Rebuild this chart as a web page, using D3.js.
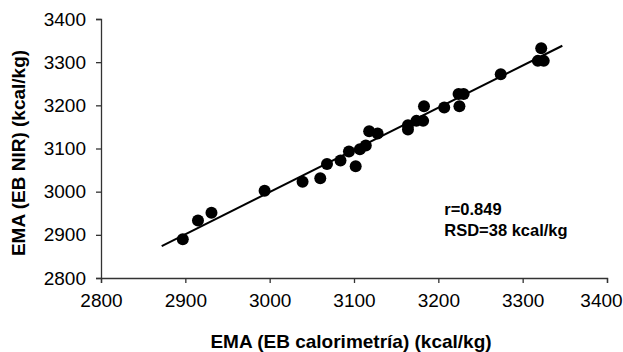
<!DOCTYPE html>
<html lang="es">
<head>
    <meta charset="UTF-8">
    <title>EMA NIR vs calorimetría</title>
    <script src="https://d3js.org/d3.v7.min.js"></script>
    <style>
        body { margin: 0; background: #fff; }
        svg { font-family: "Liberation Sans", Arial, sans-serif; }
        .axis path, .axis line { stroke: #333; stroke-width: 1.3px; }
        .axis text { fill: #000; font-size: 19px; }
        .title { font-weight: bold; font-size: 19px; fill: #000; }
        .note { font-weight: bold; font-size: 16.5px; fill: #000; }
    </style>
</head>
<body>
    <svg id="chart" width="623" height="352"></svg>

    <script>
        // EMA (EB calorimetría) vs EMA (EB NIR), kcal/kg
        const calorimetria = [2897, 2915, 2931, 2994, 3039, 3060, 3068, 3084, 3094, 3102,
                              3107, 3114, 3118, 3128, 3164, 3164, 3174, 3182, 3183, 3207,
                              3225, 3224, 3230, 3274, 3318, 3325, 3322];
        const nir          = [2890, 2933, 2951, 3002, 3023, 3031, 3064, 3072, 3093, 3059,
                              3098, 3107, 3140, 3135, 3154, 3144, 3164, 3164, 3198, 3195,
                              3198, 3226, 3226, 3272, 3303, 3303, 3332];

        // regression line end points
        const lineX = [2872, 3347];
        const lineY = [2874, 3338];

        const xTicks = [2800, 2900, 3000, 3100, 3200, 3300, 3400];
        const yTicks = [2800, 2900, 3000, 3100, 3200, 3300, 3400];

        const notes = ["r=0.849", "RSD=38 kcal/kg"];

        const margin = { top: 19, right: 16, bottom: 74, left: 101 };
        const width = 623 - margin.left - margin.right;
        const height = 352 - margin.top - margin.bottom;

        const svg = d3.select("#chart");
        const g = svg.append("g")
            .attr("transform", `translate(${margin.left},${margin.top})`);

        const x = d3.scaleLinear().domain([2800, 3400]).range([0, width]);
        const y = d3.scaleLinear().domain([2800, 3400]).range([height, 0]);

        const xAxis = g.append("g")
            .attr("class", "axis")
            .attr("transform", `translate(0,${height})`)
            .call(d3.axisBottom(x).tickValues(xTicks).tickFormat(d3.format("d"))
                .tickSizeInner(5).tickSizeOuter(5).tickPadding(11));

        // keep the last label inside the window
        xAxis.selectAll(".tick text")
            .filter(d => d === 3400)
            .attr("dx", -6);

        g.append("g")
            .attr("class", "axis")
            .call(d3.axisLeft(y).tickValues(yTicks).tickFormat(d3.format("d"))
                .tickSizeInner(5).tickSizeOuter(5).tickPadding(10));

        // fitted line
        g.append("line")
            .attr("x1", x(lineX[0])).attr("y1", y(lineY[0]))
            .attr("x2", x(lineX[1])).attr("y2", y(lineY[1]))
            .attr("stroke", "#000")
            .attr("stroke-width", 2);

        const points = calorimetria.map((c, i) => ({ c: c, n: nir[i] }));

        g.selectAll("circle")
            .data(points)
            .enter()
            .append("circle")
            .attr("cx", d => x(d.c))
            .attr("cy", d => y(d.n))
            .attr("r", 6)
            .attr("fill", "#000");

        g.selectAll(".note")
            .data(notes)
            .enter()
            .append("text")
            .attr("class", "note")
            .attr("x", x(3207))
            .attr("y", (d, i) => y(2946) + i * 21)
            .text(d => d);

        svg.append("text")
            .attr("class", "title")
            .attr("text-anchor", "middle")
            .attr("x", 351)
            .attr("y", 348)
            .text("EMA (EB calorimetría) (kcal/kg)");

        svg.append("text")
            .attr("class", "title")
            .attr("text-anchor", "middle")
            .attr("transform", `translate(25,153) rotate(-90)`)
            .text("EMA (EB NIR) (kcal/kg)");
    </script>
</body>
</html>
